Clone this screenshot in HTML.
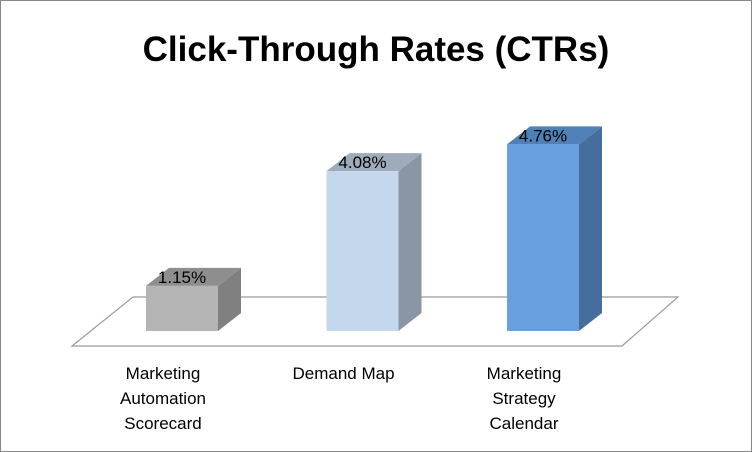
<!DOCTYPE html>
<html><head><meta charset="utf-8"><style>
body{margin:0;background:#fff}
svg{display:block;font-family:"Liberation Sans",Arial,sans-serif}
</style></head><body>
<svg width="752" height="452" viewBox="0 0 752 452">
<rect x="0.5" y="0.5" width="751" height="451" fill="#fff" stroke="#888"/>
<text x="376" y="61" text-anchor="middle" font-size="35" font-weight="bold" fill="#000">Click-Through Rates (CTRs)</text>
<polygon points="133,297 678,297 622,346 72,346" fill="#fff" stroke="#999" stroke-width="1.2"/>
<g id="bars"></g>
</svg>
<script>
const categories=[["Marketing","Automation","Scorecard"],["Demand Map"],["Marketing","Strategy","Calendar"]];
const values=[1.15,4.08,4.76];
const valueLabels=["1.15%","4.08%","4.76%"];
const fronts=["#b4b4b4","#c5d7ec","#679fdf"];
const sides=["#808080","#8a96a4","#466e9c"];
const tops=["#8e8e8e","#9eabba","#4f80b6"];
const ns="http://www.w3.org/2000/svg";
const g=document.getElementById("bars");
const base=331, pxPerUnit=39.2, bw=72, dx=23, dy=18;
function xPos(i){return 146+i*180.5;}
function yPos(v){return base-v*pxPerUnit;}
function mk(tag,attrs){const e=document.createElementNS(ns,tag);for(const k in attrs)e.setAttribute(k,attrs[k]);g.appendChild(e);return e;}
values.forEach((v,i)=>{
 const x=xPos(i), y=yPos(v);
 let p=mk("polygon",{points:`${x+bw},${y} ${x+bw+dx},${y-dy} ${x+bw+dx},${base-dy} ${x+bw},${base}`,fill:sides[i]});
 
 
 p=mk("polygon",{points:`${x},${y} ${x+dx},${y-dy} ${x+bw+dx},${y-dy} ${x+bw},${y}`,fill:tops[i]});
 
 
 const r=mk("rect",{x:x,y:y,width:bw,height:base-y,fill:fronts[i]});
 
 
 const t=mk("text",{x:x+bw/2,y:y-3,"text-anchor":"middle","font-size":"17",fill:"#000"});
 t.textContent=valueLabels[i];
 
 
 categories[i].forEach((line,j)=>{
  const c=mk("text",{x:x+17,y:379+j*25,"text-anchor":"middle","font-size":"17",fill:"#000"});
  c.textContent=line;
  
  
 });
});
</script>
</body></html>
